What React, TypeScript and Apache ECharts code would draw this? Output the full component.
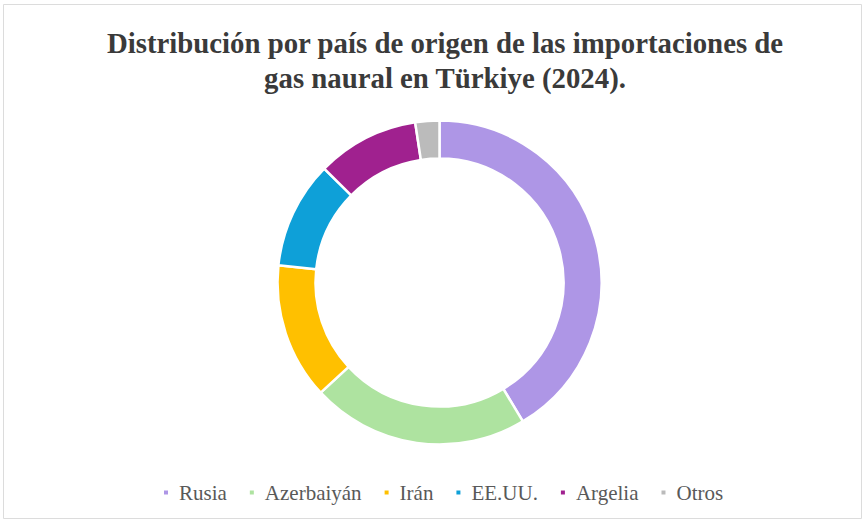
import React, { useEffect, useRef } from "react";
import * as echarts from "echarts";

const titleLines = [
  "Distribución por país de origen de las importaciones de",
  "gas naural en Türkiye (2024).",
];
const categories = ["Rusia", "Azerbaiyán", "Irán", "EE.UU.", "Argelia", "Otros"];
const shares = [41.4, 21.7, 13.6, 10.7, 10.2, 2.4];
const colors = ["#AE96E6", "#AEE3A0", "#FFC000", "#0EA0D8", "#A0218F", "#BBBBBB"];

export default function App() {
  const ref = useRef<HTMLDivElement>(null);
  useEffect(() => {
    if (!ref.current) return;
    const chart = echarts.init(ref.current, null, { renderer: "svg" });
    chart.setOption({
      animation: false,
      backgroundColor: "#ffffff",
      title: {
        text: titleLines.join("\n"),
        left: 440,
        top: 20,
        textAlign: "center",
        textStyle: {
          fontFamily: "'Liberation Serif', 'Times New Roman', serif",
          fontWeight: "bold",
          fontSize: 28.8,
          lineHeight: 35,
          color: "#3a3a3a",
        },
      },
      legend: {
        data: categories,
        bottom: 17,
        left: 157,
        icon: "rect",
        itemWidth: 6,
        itemHeight: 6,
        itemGap: 21,
        textStyle: {
          fontFamily: "'Liberation Serif', 'Times New Roman', serif",
          fontSize: 21,
          color: "#595959",
          padding: [0, 0, 0, 5],
        },
      },
      graphic: [
        {
          type: "rect",
          shape: { x: 3.5, y: 4.5, width: 858, height: 514 },
          style: { fill: "none", stroke: "#dcdcdc", lineWidth: 1 },
          silent: true,
        },
      ],
      series: [
        {
          type: "pie",
          center: [439.5, 282.5],
          radius: [124, 162],
          startAngle: 90,
          clockwise: true,
          label: { show: false },
          labelLine: { show: false },
          emphasis: { disabled: true },
          itemStyle: { borderColor: "#ffffff", borderWidth: 2.5 },
          data: categories.map((name, i) => ({
            name,
            value: shares[i],
            itemStyle: { color: colors[i] },
          })),
        },
      ],
    });
    return () => chart.dispose();
  }, []);
  return (
    <div
      ref={ref}
      style={{ position: "fixed", left: 0, top: 0, width: 867, height: 525 }}
    />
  );
}
